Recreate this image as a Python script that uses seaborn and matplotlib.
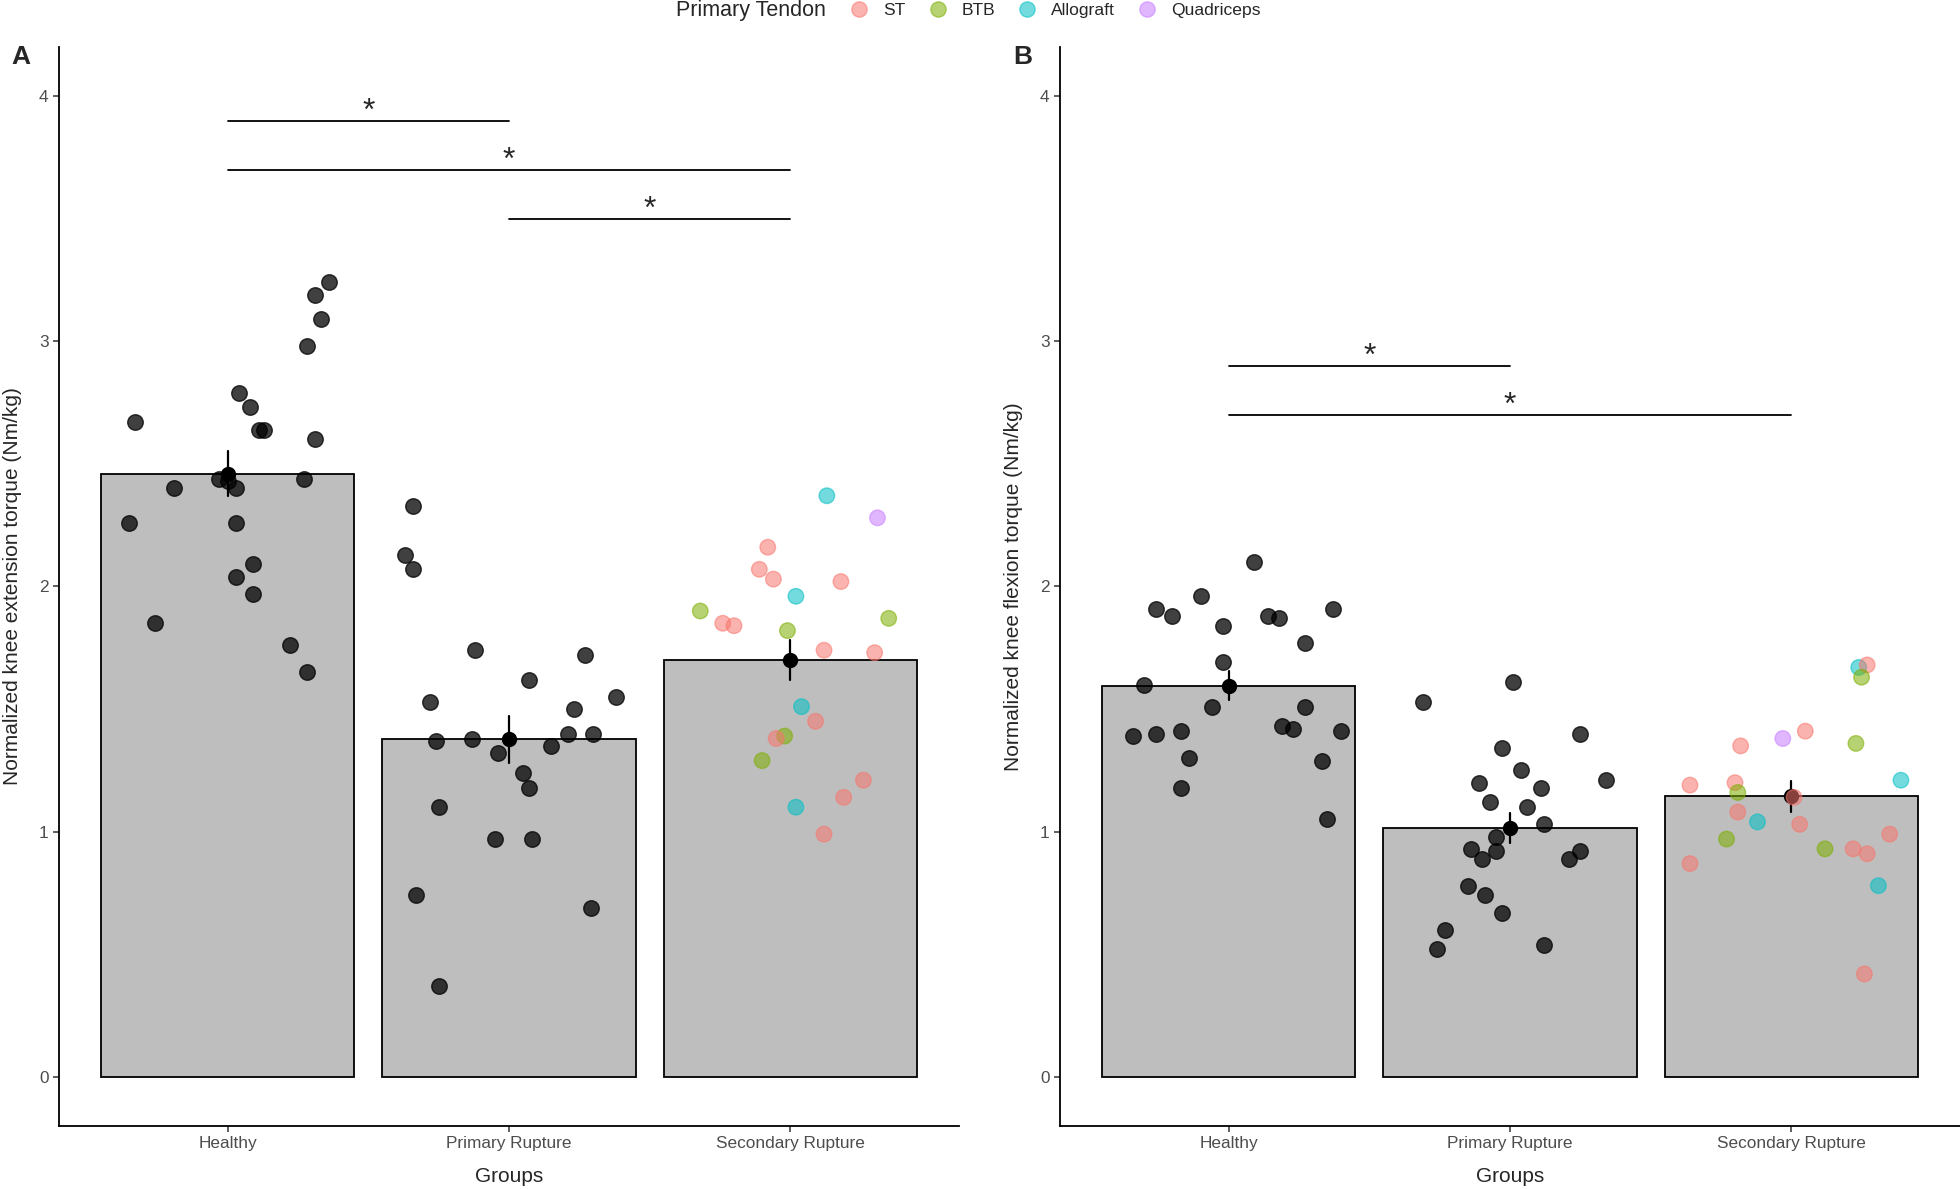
import pandas as pd
import seaborn as sns
import matplotlib.pyplot as plt
from matplotlib.lines import Line2D

groups = ['Healthy', 'Primary Rupture', 'Secondary Rupture']
tendons = ['ST', 'BTB', 'Allograft', 'Quadriceps']
tendon_colors = ['#F8766D', '#7CAE00', '#00BFC4', '#C77CFF']

# panel A - knee extension torque (Nm/kg)
ext_healthy = [3.24, 3.19, 3.09, 2.98, 2.79, 2.73, 2.64, 2.64, 2.67, 2.60, 2.44, 2.43,
               2.40, 2.44, 2.40, 2.26, 2.26, 2.09, 2.04, 1.97, 1.85, 1.76, 1.65]
ext_healthy_jit = [0.36, 0.31, 0.33, 0.28, 0.04, 0.08, 0.11, 0.13, -0.33, 0.31, -0.03, 0.0,
                   0.03, 0.27, -0.19, -0.35, 0.03, 0.09, 0.03, 0.09, -0.26, 0.22, 0.28]
ext_primary = [2.33, 2.13, 2.07, 1.74, 1.72, 1.62, 1.53, 1.55, 1.50, 1.37, 1.38, 1.40,
               1.40, 1.35, 1.32, 1.24, 1.18, 1.10, 0.97, 0.97, 0.74, 0.69, 0.37]
ext_primary_jit = [-0.34, -0.37, -0.34, -0.12, 0.27, 0.07, -0.28, 0.38, 0.23, -0.26, -0.13, 0.21,
                   0.30, 0.15, -0.04, 0.05, 0.07, -0.25, -0.05, 0.08, -0.33, 0.29, -0.25]
ext_secondary = [2.37, 2.28, 2.16, 2.07, 2.03, 2.02, 1.96, 1.90, 1.85, 1.84, 1.87, 1.82,
                 1.74, 1.73, 1.51, 1.45, 1.39, 1.38, 1.29, 1.21, 1.14, 1.10, 0.99]
ext_secondary_jit = [0.13, 0.31, -0.08, -0.11, -0.06, 0.18, 0.02, -0.32, -0.24, -0.20, 0.35, -0.01,
                     0.12, 0.30, 0.04, 0.09, -0.02, -0.05, -0.10, 0.26, 0.19, 0.02, 0.12]
ext_secondary_tendon = ['Allograft', 'Quadriceps', 'ST', 'ST', 'ST', 'ST', 'Allograft', 'BTB',
                        'ST', 'ST', 'BTB', 'BTB', 'ST', 'ST', 'Allograft', 'ST', 'BTB', 'ST',
                        'BTB', 'ST', 'ST', 'Allograft', 'ST']

# panel B - knee flexion torque (Nm/kg)
flx_healthy = [2.10, 1.96, 1.91, 1.88, 1.84, 1.88, 1.87, 1.91, 1.77, 1.69, 1.60, 1.51,
               1.51, 1.39, 1.40, 1.41, 1.43, 1.42, 1.41, 1.30, 1.29, 1.18, 1.05]
flx_healthy_jit = [0.09, -0.10, -0.26, -0.20, -0.02, 0.14, 0.18, 0.37, 0.27, -0.02, -0.30, -0.06,
                   0.27, -0.34, -0.26, -0.17, 0.19, 0.23, 0.40, -0.14, 0.33, -0.17, 0.35]
flx_primary = [1.61, 1.53, 1.40, 1.34, 1.25, 1.21, 1.20, 1.18, 1.12, 1.10, 1.03, 0.98,
               0.92, 0.93, 0.89, 0.89, 0.92, 0.78, 0.74, 0.67, 0.60, 0.52, 0.54]
flx_primary_jit = [0.01, -0.31, 0.25, -0.03, 0.04, 0.34, -0.11, 0.11, -0.07, 0.06, 0.12, -0.05,
                   -0.05, -0.14, -0.10, 0.21, 0.25, -0.15, -0.09, -0.03, -0.23, -0.26, 0.12]
flx_secondary = [1.67, 1.68, 1.63, 1.41, 1.38, 1.35, 1.36, 1.19, 1.20, 1.21, 1.16, 1.14,
                 1.08, 1.04, 1.03, 0.99, 0.97, 0.93, 0.93, 0.91, 0.87, 0.78, 0.42]
flx_secondary_jit = [0.24, 0.27, 0.25, 0.05, -0.03, -0.18, 0.23, -0.36, -0.20, 0.39, -0.19, 0.01,
                     -0.19, -0.12, 0.03, 0.35, -0.23, 0.12, 0.22, 0.27, -0.36, 0.31, 0.26]
flx_secondary_tendon = ['Allograft', 'ST', 'BTB', 'ST', 'Quadriceps', 'ST', 'BTB', 'ST', 'ST',
                        'Allograft', 'BTB', 'ST', 'ST', 'Allograft', 'ST', 'ST', 'BTB', 'BTB',
                        'ST', 'ST', 'ST', 'Allograft', 'ST']

# significance brackets: (group from, group to, height)
ext_signif = [(0, 1, 3.9), (0, 2, 3.7), (1, 2, 3.5)]
flx_signif = [(0, 1, 2.9), (0, 2, 2.7)]


def make_df(h, hj, p, pj, s, sj, st):
    rows = []
    for g, vals, jit, tend in [(0, h, hj, [None] * len(h)),
                               (1, p, pj, [None] * len(p)),
                               (2, s, sj, st)]:
        for v, j, t in zip(vals, jit, tend):
            rows.append({'group': groups[g], 'value': v, 'xpos': g + j, 'tendon': t})
    return pd.DataFrame(rows)


ext_df = make_df(ext_healthy, ext_healthy_jit, ext_primary, ext_primary_jit,
                 ext_secondary, ext_secondary_jit, ext_secondary_tendon)
flx_df = make_df(flx_healthy, flx_healthy_jit, flx_primary, flx_primary_jit,
                 flx_secondary, flx_secondary_jit, flx_secondary_tendon)

sns.set_theme(style='ticks')
plt.rcParams['font.family'] = ['Liberation Sans', 'DejaVu Sans']

fig = plt.figure(figsize=(19.6, 11.89), dpi=100)
axA = fig.add_axes([0.0301, 0.053, 0.4592, 0.9075])
axB = fig.add_axes([0.5408, 0.053, 0.4592, 0.9075])


def draw_panel(ax, df, ylabel, signif):
    sns.barplot(data=df, x='group', y='value', order=groups, errorbar=None,
                color='#BEBEBE', saturation=1, edgecolor='black', linewidth=1.3,
                width=0.9, ax=ax)
    sns.pointplot(data=df, x='group', y='value', order=groups, errorbar='se',
                  color='black', linestyle='none', markers='o', markersize=9,
                  err_kws={'linewidth': 1.6}, ax=ax)
    blk = df[df['tendon'].isna()]
    col = df[df['tendon'].notna()]
    sns.scatterplot(data=blk, x='xpos', y='value', color='black', alpha=0.75,
                    s=125, edgecolor='black', linewidth=1, legend=False, zorder=3, ax=ax)
    sns.scatterplot(data=col, x='xpos', y='value', hue='tendon', hue_order=tendons,
                    palette=tendon_colors, alpha=0.55, s=125, edgecolor='face',
                    linewidth=1, legend=False, zorder=3, ax=ax)

    for a, b, h in signif:
        ax.plot([a, b], [h, h], color='black', linewidth=1.3)
        ax.text((a + b) / 2, h - 0.025, '*', ha='center', va='bottom', fontsize=23)

    ax.set_xlim(-0.6, 2.6)
    ax.set_ylim(-0.2, 4.2)
    ax.set_yticks([0, 1, 2, 3, 4])
    ax.set_xticks([0, 1, 2])
    ax.set_xticklabels(groups)
    ax.set_xlabel('Groups', fontsize=15, labelpad=11)
    ax.set_ylabel(ylabel, fontsize=15, labelpad=12)
    ax.tick_params(labelsize=12.4, labelcolor='#4D4D4D', length=4, width=1.1, color='#333333')
    sns.despine(ax=ax)
    for sp in ['left', 'bottom']:
        ax.spines[sp].set_linewidth(1.3)
        ax.spines[sp].set_color('black')


draw_panel(axA, ext_df, 'Normalized knee extension torque (Nm/kg)', ext_signif)
draw_panel(axB, flx_df, 'Normalized knee flexion torque (Nm/kg)', flx_signif)

fig.text(21 / 1960, 1 - 57 / 1189, 'A', fontsize=19, fontweight='bold', ha='center', va='center')
fig.text(1023 / 1960, 1 - 57 / 1189, 'B', fontsize=19, fontweight='bold', ha='center', va='center')

# legend along the top
fig.text(0.345, 0.991, 'Primary Tendon', fontsize=15.5, ha='left', va='center')
handles = [Line2D([], [], linestyle='none', marker='o', markersize=11, color=c,
                  markeredgecolor=c, alpha=0.55) for c in tendon_colors]
fig.legend(handles, tendons, loc='center left', bbox_to_anchor=(0.434, 0.991),
           ncol=4, frameon=False, fontsize=12.6, handlelength=1.0, handletextpad=0.85,
           columnspacing=1.35, borderpad=0, borderaxespad=0)

fig.savefig('out.png', dpi=100)
